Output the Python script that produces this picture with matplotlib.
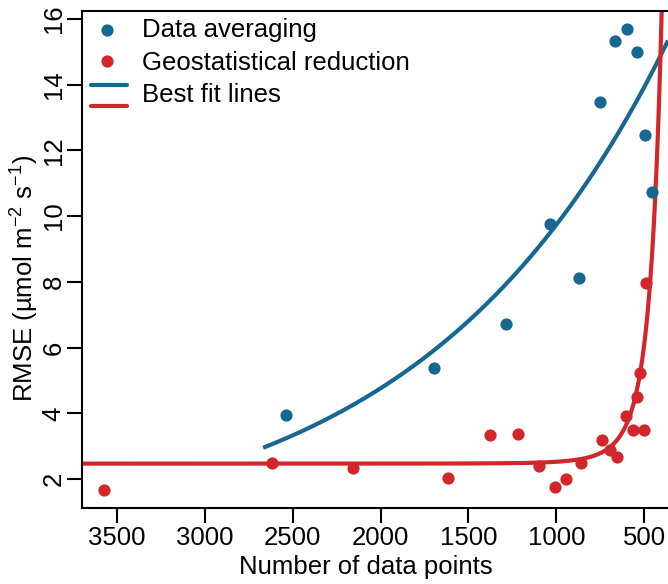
#!/usr/bin/env python3

import numpy as np
import matplotlib
matplotlib.use("Agg")
import matplotlib.pyplot as plt

# values
avg_points = [2540, 1697, 1286, 1034, 873, 750, 665, 598, 538, 493, 455]
avg_rmse = [3.94, 5.37, 6.71, 9.76, 8.11, 13.47, 15.32, 15.69, 14.99, 12.48, 10.73]

geo_points = [3572, 2618, 2155, 1615, 1375, 1220, 1100, 1006, 943, 860,
              739, 693, 655, 602, 564, 541, 523, 500, 489]
geo_rmse = [1.66, 2.48, 2.33, 2.04, 3.34, 3.38, 2.41, 1.77, 2.01, 2.48,
            3.19, 2.88, 2.66, 3.92, 3.49, 4.50, 5.23, 3.49, 7.97]

# best fit lines (parameters estimated from the drawn curves)
avg_fit_a, avg_fit_b = 19.9, 0.000715          # y = a * exp(-b * n)
avg_fit_range = (2669, 364)
geo_fit_c, geo_fit_n0, geo_fit_p = 2.47, 619, 6.0   # y = c + (n0 / n) ** p
geo_fit_range = (3700, 380)

x_ticks = [3500, 3000, 2500, 2000, 1500, 1000, 500]
y_ticks = [2, 4, 6, 8, 10, 12, 14, 16]

BLUE = "#176891"
RED = "#d2262b"

plt.rcParams["font.family"] = ["Liberation Sans", "DejaVu Sans"]
plt.rcParams["mathtext.fontset"] = "custom"
plt.rcParams["mathtext.rm"] = "Liberation Sans"
FS = 18.5

W, H = 668, 584
fig = plt.figure(figsize=(W / 100, H / 100), dpi=100)

# axes box in pixels: left 82, right 668, top 11, bottom 508
L, R, T, B = 82, 668, 11, 508
ax = fig.add_axes([L / W, (H - B) / H, (R - L) / W, (B - T) / H])

def px(x, y):
  # pixel position -> axes fraction
  return ((x - L) / (R - L), (B - y) / (B - T))

n = np.linspace(avg_fit_range[0], avg_fit_range[1], 300)
ax.plot(n, avg_fit_a * np.exp(-avg_fit_b * n), color=BLUE, lw=3, solid_capstyle="butt")
n = np.linspace(geo_fit_range[0], geo_fit_range[1], 2000)
ax.plot(n, geo_fit_c + (geo_fit_n0 / n) ** geo_fit_p, color=RED, lw=3)

ax.plot(avg_points, avg_rmse, "o", color=BLUE, ms=8.8, mew=0)
ax.plot(geo_points, geo_rmse, "o", color=RED, ms=8.8, mew=0)

ax.set_xlim(3700, 364)
ax.set_ylim(1.12, 16.24)
ax.set_xticks(x_ticks)
ax.set_yticks(y_ticks)
ax.spines["right"].set_visible(False)
for s in ["left", "bottom", "top"]:
  ax.spines[s].set_linewidth(1.5)
ax.tick_params(length=10.8, width=1.5, labelsize=FS)
ax.tick_params(axis="x", pad=2)
ax.tick_params(axis="y", pad=1, labelrotation=90)
for lab in ax.get_yticklabels():
  lab.set_va("center")

fig.text(366 / W, 1 - 574 / H, "Number of data points", ha="center",
         va="baseline", fontsize=FS)
fig.text(24 / W, 1 - 278 / H, "RMSE (µmol m$^{\\mathregular{-2}}$ s$^{\\mathregular{-1}}$)",
         ha="center", va="center", rotation=90, fontsize=FS)

# legend drawn by hand: two dots and a stacked pair of lines
for (y, c) in [(30, BLUE), (61, RED)]:
  ax.plot(*px(106.7, y), "o", color=c, ms=8.8, mew=0,
          transform=ax.transAxes, clip_on=False)
for (y, c) in [(85, BLUE), (105.5, RED)]:
  (x0, yy) = px(91, y)
  (x1, _) = px(127, y)
  ax.plot([x0, x1], [yy, yy], color=c, lw=3, solid_capstyle="round",
          transform=ax.transAxes, clip_on=False)
for (y, text) in [(37.3, "Data averaging"), (70.5, "Geostatistical reduction"),
                  (101.7, "Best fit lines")]:
  ax.text(*px(142, y), text, fontsize=FS, va="baseline", ha="left",
          transform=ax.transAxes)

fig.savefig("out.png", dpi=100)
